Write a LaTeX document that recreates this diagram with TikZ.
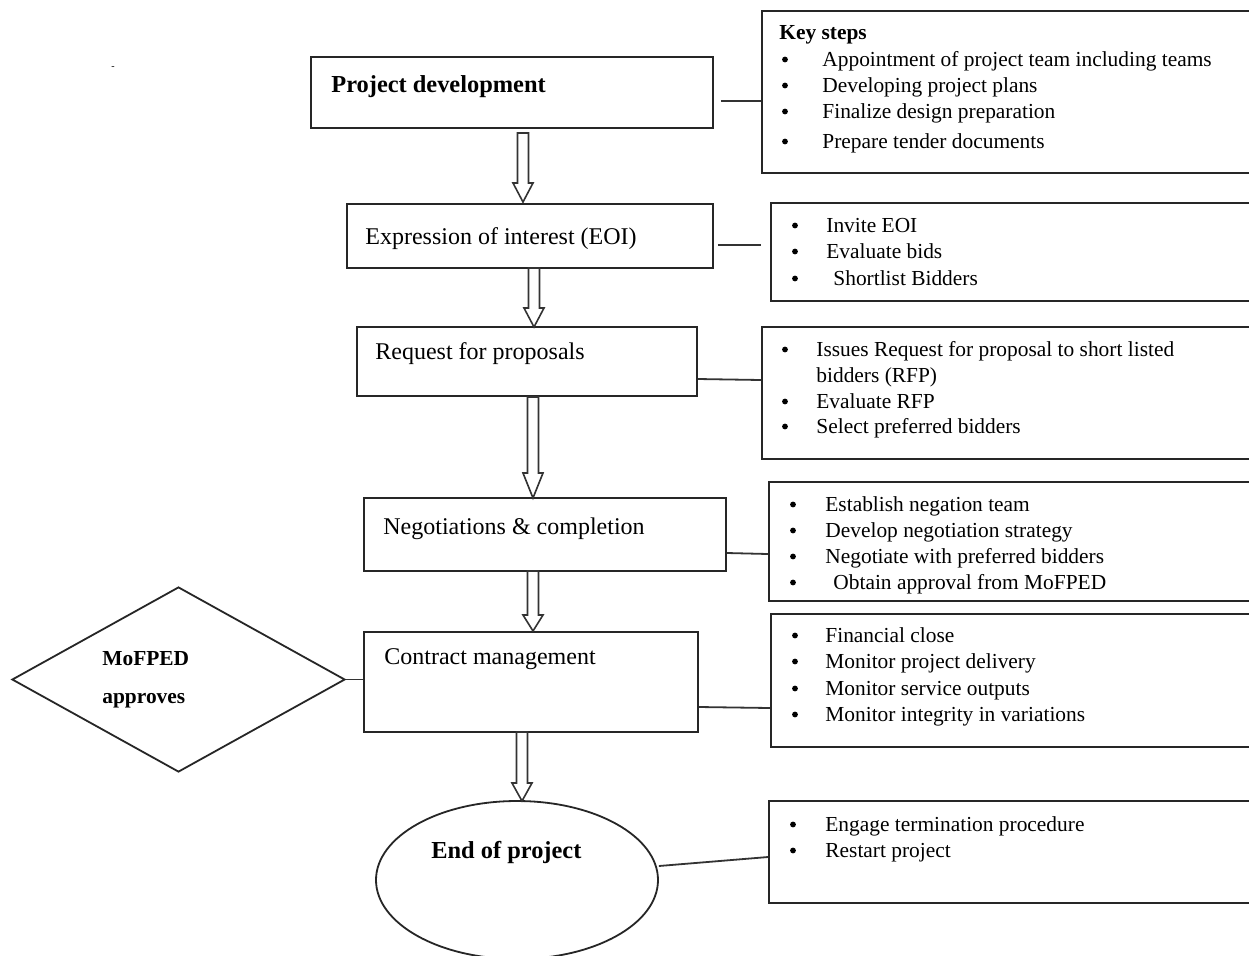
\documentclass[tikz,border=0pt]{standalone}
\usepackage{fontspec}
\setmainfont{Liberation Serif}
\usetikzlibrary{shapes.geometric,calc,fit}
\newcommand\li[5]{\node[bul] (#1b) at ($(#2,#4)+(0,-6.5)$) {}; \node[lst] (#1) at (#3,#4) {#5};}
\newcommand\barr[3]{\draw[barrow] ($(#1)+(-5.5,0)$) -- ($(#2)+(-5.5,-#3)$) -- ($(#2)+(-10,-#3)$) -- (#2) -- ($(#2)+(10,-#3)$) -- ($(#2)+(5.5,-#3)$) -- ($(#1)+(5.5,0)$) -- cycle;}
\begin{document}
\begin{tikzpicture}[x=0.5pt,y=-0.5pt,
  box/.style={draw=black!85, line width=0.9pt, inner sep=0pt},
  conn/.style={draw=black!80, line width=0.9pt},
  barrow/.style={draw=black!80, line width=0.8pt, fill=white},
  ttl/.style={font=\fontsize{12}{14}\selectfont, inner sep=0pt, anchor=base west},
  ttlb/.style={font=\fontsize{12.2}{14}\selectfont\bfseries, inner sep=0pt, anchor=base west},
  lstb/.style={font=\fontsize{10.7}{13}\selectfont\bfseries, inner sep=0pt, anchor=base west},
  lst/.style={font=\fontsize{10.7}{13}\selectfont, inner sep=0pt, anchor=base west},
  bul/.style={circle, fill=black, draw=none, minimum size=2.9pt, inner sep=0pt},
]
\clip (0,0) rectangle (1249,955);
\fill[white] (0,0) rectangle (1249,955);

% stray mark
\node[font=\fontsize{5}{5}\selectfont, inner sep=0pt] (stray) at (113,68) {-};

% left flow boxes
\node[box, fit={(311,57) (713,128)}] (b1) {};
\node[box, fit={(347,204) (713,268)}] (b2) {};
\node[box, fit={(357,327) (697,396)}] (b3) {};
\node[box, fit={(364,498) (726,571)}] (b4) {};
\node[box, fit={(364,632) (698,732)}] (b5) {};
\node[box, ellipse, minimum width=141pt, minimum height=79pt] (endp) at (517,880) {};
\node[box, diamond, minimum width=166.5pt, minimum height=92.5pt] (dia) at (178.5,679.5) {};

\node[ttlb] (t1) at (331,92) {Project development};
\node[ttl] (t2) at (365,244) {Expression of interest (EOI)};
\node[ttl] (t3) at (375,359) {Request for proposals};
\node[ttl] (t4) at (383,534) {Negotiations \& completion};
\node[ttl] (t5) at (384,664) {Contract management};
\node[ttlb] (t6) at (431,858) {End of project};
\node[lstb] (d1) at (102,665) {MoFPED};
\node[lstb] (d2) at (102,703) {approves};

% right boxes
\node[box, fit={(762,11) (1262,173)}] (r1) {};
\node[box, fit={(771,203) (1262,301)}] (r2) {};
\node[box, fit={(762,327) (1262,459)}] (r3) {};
\node[box, fit={(769,482) (1262,601)}] (r4) {};
\node[box, fit={(771,614) (1262,747)}] (r5) {};
\node[box, fit={(769,801) (1262,903)}] (r6) {};

\node[lstb] (k0) at (779,39) {Key steps};
\li{k1}{785}{822}{66}{Appointment of project team including teams}
\li{k2}{785}{822}{92}{Developing project plans}
\li{k3}{785}{822}{118}{Finalize design preparation}
\li{k4}{785}{822}{148}{Prepare tender documents}

\li{e1}{795}{826}{232}{Invite EOI}
\li{e2}{795}{826}{258}{Evaluate bids}
\li{e3}{795}{833}{285}{Shortlist Bidders}

\li{p1}{785}{816}{356}{Issues Request for proposal to short listed}
\node[lst] (p1b2) at (816,382) {bidders (RFP)};
\li{p2}{785}{816}{408}{Evaluate RFP}
\li{p3}{785}{816}{433}{Select preferred bidders}

\li{n1}{793}{825}{511}{Establish negation team}
\li{n2}{793}{825}{537}{Develop negotiation strategy}
\li{n3}{793}{825}{563}{Negotiate with preferred bidders}
\li{n4}{793}{833}{589}{Obtain approval from MoFPED}

\li{m1}{795}{825}{642}{Financial close}
\li{m2}{795}{825}{668}{Monitor project delivery}
\li{m3}{795}{825}{695}{Monitor service outputs}
\li{m4}{795}{825}{721}{Monitor integrity in variations}

\li{f1}{793}{825}{831}{Engage termination procedure}
\li{f2}{793}{825}{857}{Restart project}

% connectors to right boxes
\draw[conn, shorten <=3.5pt] (b1.east |- 0,101) -- (r1.west |- 0,101);
\draw[conn, shorten <=2pt, shorten >=4.5pt] (b2.east |- 0,245) -- (r2.west |- 0,245);
\draw[conn] (b3.east |- 0,379) -- (r3.west |- 0,380);
\draw[conn] (b4.east |- 0,553) -- (r4.west |- 0,554);
\draw[conn] (b5.east |- 0,707) -- (r5.west |- 0,708);
\draw[conn] (endp.east |- 0,866) -- (r6.west |- 0,857);
\draw[conn] (dia.east) -- (b5.west |- dia.east);

% block arrows
\coordinate (a1s) at (523,133); \coordinate (a1e) at (523,202);
\coordinate (a2s) at (534,268); \coordinate (a2e) at (534,327);
\coordinate (a3s) at (533,397); \coordinate (a3e) at (533,498);
\coordinate (a4s) at (533,571); \coordinate (a4e) at (533,631);
\coordinate (a5s) at (522,732); \coordinate (a5e) at (522,801);
\barr{a1s}{a1e}{19}
\barr{a2s}{a2e}{19}
\barr{a3s}{a3e}{25}
\barr{a4s}{a4e}{16}
\barr{a5s}{a5e}{18}
\end{tikzpicture}
\end{document}
